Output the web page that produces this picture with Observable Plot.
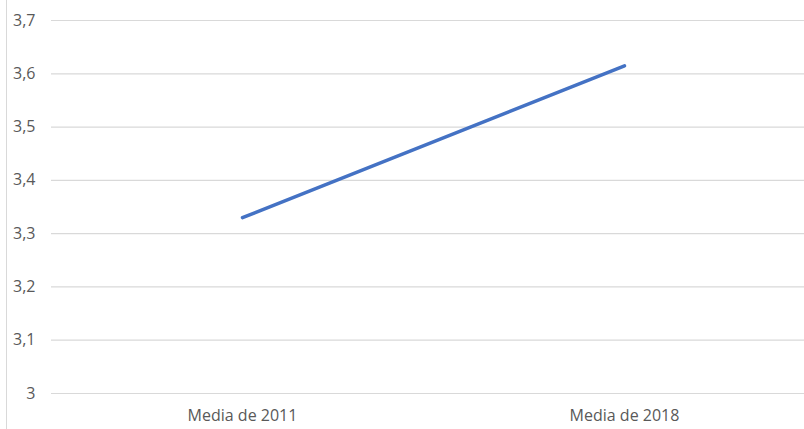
<!DOCTYPE html>
<html>
<head>
<meta charset="utf-8">
<script src="https://cdn.jsdelivr.net/npm/d3@7"></script>
<script src="https://cdn.jsdelivr.net/npm/@observablehq/plot@0.6"></script>
<style>
  html, body { margin: 0; padding: 0; background: #fff; }
  #wrap { position: relative; width: 804px; height: 429px; overflow: hidden; }
  #edge { position: absolute; left: 6px; top: 0; width: 1px; height: 429px; background: #d9d9d9; }
</style>
</head>
<body>
<div id="wrap"><div id="edge"></div></div>
<script>
// Average score per survey year
const categories = ["Media de 2011", "Media de 2018"];
const values = [3.33, 3.615];
const yTicks = [3, 3.1, 3.2, 3.3, 3.4, 3.5, 3.6, 3.7];

const data = categories.map((c, i) => ({ category: c, value: values[i] }));
const fmt = d => String(+d.toFixed(1)).replace(".", ",");

const chart = Plot.plot({
  width: 804,
  height: 429,
  marginLeft: 51,
  marginRight: 0,
  marginTop: 20,
  marginBottom: 36,
  style: { fontFamily: "'Open Sans', sans-serif", fontSize: "16px", color: "#595959", background: "transparent" },
  x: { type: "point", domain: categories, range: [242, 624], padding: 0, label: null },
  y: { domain: [3, 3.7], label: null },
  marks: [
    Plot.gridY(yTicks, { stroke: "#d9d9d9", strokeOpacity: 1, strokeWidth: 1.2 }),
    Plot.axisY(yTicks, { tickSize: 0, tickPadding: 16, tickFormat: fmt, fill: "#595959", fontSize: 16, label: null }),
    Plot.axisX({ tickSize: 0, tickPadding: 16, fill: "#595959", fontSize: 16, label: null }),
    Plot.line(data, { x: "category", y: "value", stroke: "#4472c4", strokeWidth: 3.5, strokeLinecap: "round" })
  ]
});
document.getElementById("wrap").appendChild(chart);
</script>
</body>
</html>
